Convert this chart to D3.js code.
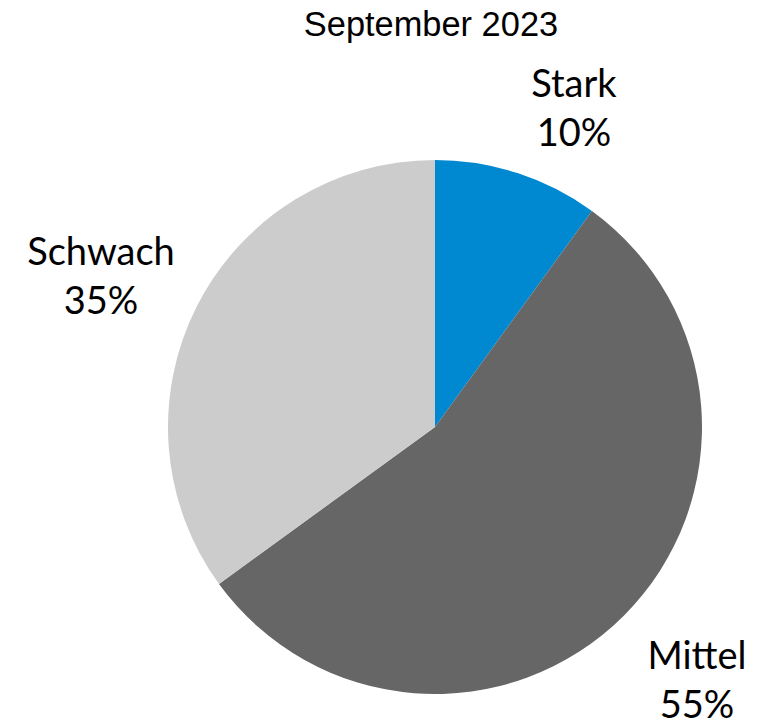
<!DOCTYPE html>
<html>
<head>
<meta charset="utf-8">
<script src="https://cdn.jsdelivr.net/npm/d3@7"></script>
<style>
	body { margin: 0; background: #fff; }
	svg { display: block; }
</style>
</head>
<body>
<div id="chart"></div>
<script>
const title = "September 2023";
const categories = ["Stark", "Mittel", "Schwach"];
const shares = [10, 55, 35];
const colors = ["#0089D0", "#666666", "#CCCCCC"];

const width = 763, height = 724,
	cx = 435, cy = 427, radius = 267,
	labelRadius = 292,
	fontSize = 38, lineGap = 49;

const svg = d3.select("#chart").append("svg")
	.attr("width", width)
	.attr("height", height);

// title
svg.append("text")
	.attr("x", 431)
	.attr("y", 36)
	.attr("text-anchor", "middle")
	.style("font-family", "'Liberation Sans', Arial, sans-serif")
	.style("font-size", "34.4px")
	.style("fill", "#000")
	.text(title);

const pie = d3.pie().sort(null).value(d => d.value);
const arcs = pie(categories.map((c, i) => ({name: c, value: shares[i], color: colors[i]})));

const arc = d3.arc().innerRadius(0).outerRadius(radius);
const labelArc = d3.arc().innerRadius(labelRadius).outerRadius(labelRadius);

const g = svg.append("g")
	.attr("transform", `translate(${cx},${cy})`);

g.selectAll("path")
	.data(arcs)
	.enter()
	.append("path")
	.attr("d", arc)
	.attr("fill", d => d.data.color);

// labels: box corner nearest the pie sits near the label radius at mid-angle
const labels = g.selectAll("text.label")
	.data(arcs)
	.enter()
	.append("text")
	.attr("class", "label")
	.attr("text-anchor", "middle")
	.style("font-family", "Lato, 'Open Sans', sans-serif")
	.style("font-size", fontSize + "px")
	.style("fill", "#000");

labels.append("tspan").attr("class", "l1").text(d => d.data.name);
labels.append("tspan").attr("class", "l2").text(d => d3.format(".0f")(d.value) + "%");

labels.each(function (d) {
	const t = d3.select(this);
	const w = Math.max(t.select(".l1").node().getComputedTextLength(),
		t.select(".l2").node().getComputedTextLength());
	const boxH = 29 + lineGap + 10;
	const [px, py] = labelArc.centroid(d);
	const mid = (d.startAngle + d.endAngle) / 2;
	const right = Math.sin(mid) >= 0;
	let left = right ? px + 6 : px - w;
	let top = (-Math.cos(mid) <= 0 ? py - boxH : py) + 7;
	// labels on the left sit lower, closer to vertical centering
	if (!right) top += 23;
	const x = left + w / 2;
	t.select(".l1").attr("x", x).attr("y", top + 29);
	t.select(".l2").attr("x", x).attr("y", top + 29 + lineGap);
});
</script>
</body>
</html>
